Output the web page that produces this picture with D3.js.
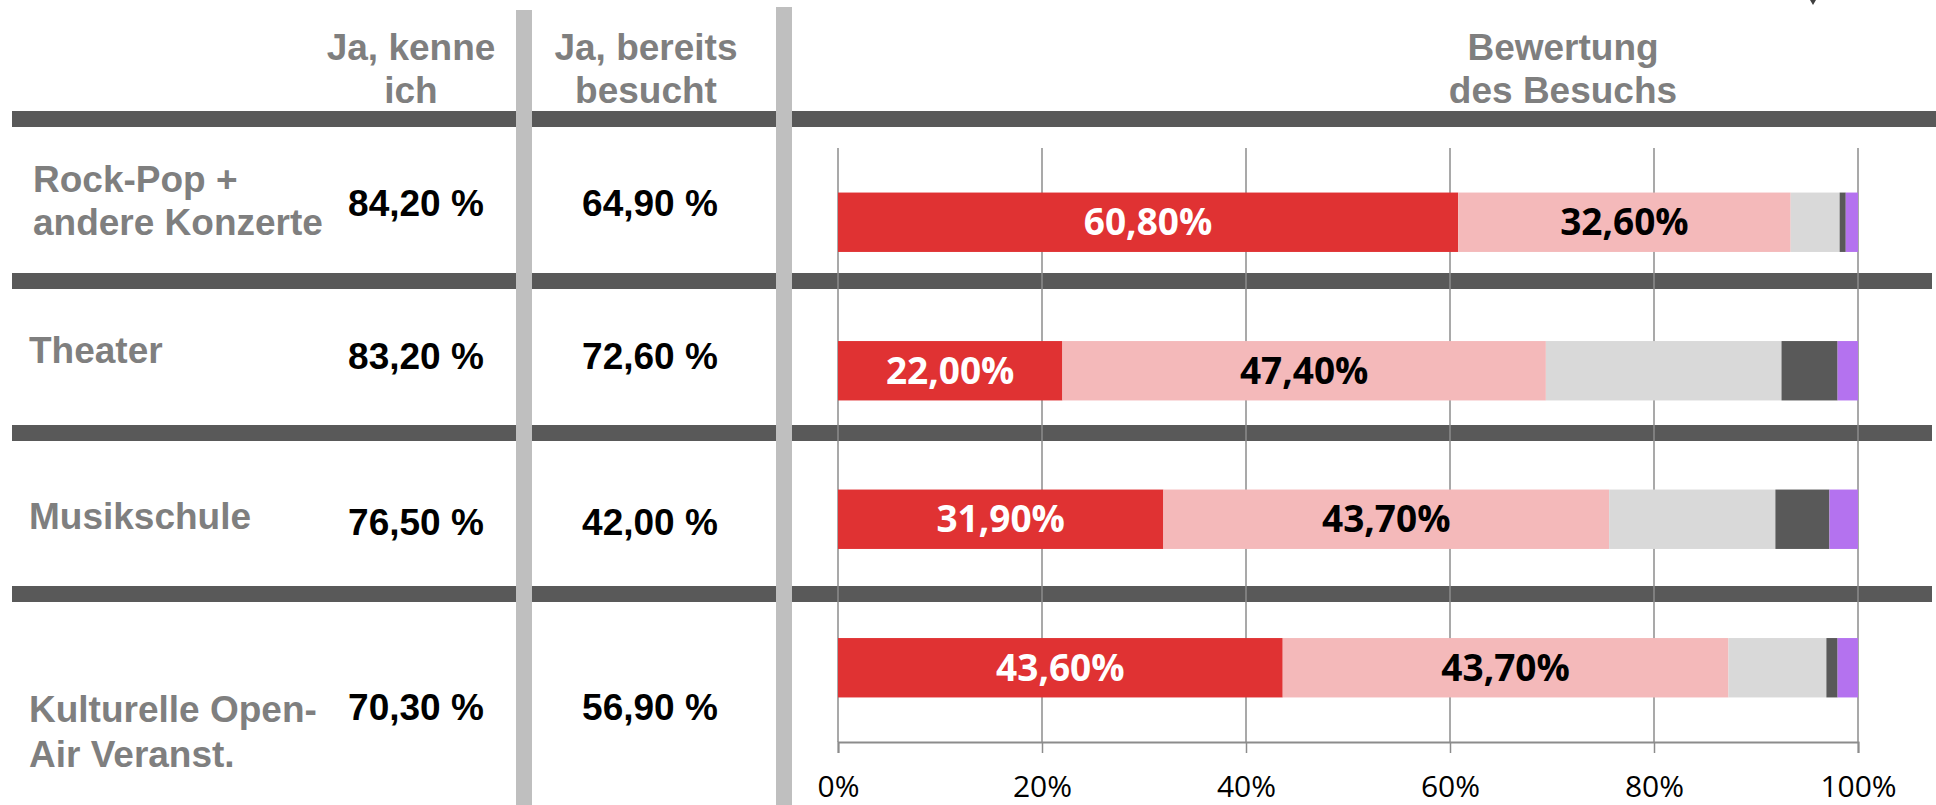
<!DOCTYPE html>
<html>
<head>
<meta charset="utf-8">
<script src="https://cdn.jsdelivr.net/npm/d3@7"></script>
<style>
  html, body { margin: 0; padding: 0; background: #fff; }
  svg { display: block; }
</style>
</head>
<body>
<svg id="chart" width="1936" height="805"></svg>
<script>
// data
const categories = ['Rock-Pop + andere Konzerte', 'Theater', 'Musikschule', 'Kulturelle Open-Air Veranst.'];
const categoryLines = [['Rock-Pop +', 'andere Konzerte'], ['Theater'], ['Musikschule'], ['Kulturelle Open-', 'Air Veranst.']];
const known = [84.2, 83.2, 76.5, 70.3];
const visited = [64.9, 72.6, 42.0, 56.9];

const seriesKeys = ['sehrGut', 'gut', 'mittel', 'schlecht', 'sehrSchlecht'];
const sehrGut = [60.8, 22.0, 31.9, 43.6];
const gut = [32.6, 47.4, 43.7, 43.7];
const mittel = [4.8, 23.1, 16.3, 9.6];
const schlecht = [0.6, 5.5, 5.3, 1.1];
const sehrSchlecht = [1.2, 2.0, 2.8, 2.0];
const seriesColors = ['#e03233', '#f4b9ba', '#d9d9d9', '#595959', '#b472ef'];
const labelColors = ['#ffffff', '#000000', null, null, null];

const headers = [['Ja, kenne', 'ich'], ['Ja, bereits', 'besucht'], ['Bewertung', 'des Besuchs']];
const tickValues = [0, 0.2, 0.4, 0.6, 0.8, 1];

const rows = categories.map((c, i) => ({
  category: c,
  sehrGut: sehrGut[i] / 100, gut: gut[i] / 100, mittel: mittel[i] / 100,
  schlecht: schlecht[i] / 100, sehrSchlecht: sehrSchlecht[i] / 100
}));

const svg = d3.select('#chart');
const deComma = s => s.replace('.', ',');
const pct2 = v => deComma(d3.format('.2f')(v));

// layout
const x = d3.scaleLinear().domain([0, 1]).range([838, 1858]);
const y = d3.scaleBand().domain(categories).range([148, 742]).paddingInner(0.6).paddingOuter(0.3);
const sepTops = [111, 273, 425, 586];
const valueBaselines = [216, 369, 535, 720];
const labelBaselines = [[192, 235], [363], [529], [722, 767]];

const grey = '#7f7f7f';
const font = '"Liberation Sans", Arial, sans-serif';
const textSize = '37px';

// horizontal separators
svg.append('g').attr('class', 'separators')
  .selectAll('rect').data(sepTops).enter().append('rect')
  .attr('x', 12)
  .attr('y', d => d)
  .attr('width', (d, i) => i === 0 ? 1924 : 1920)
  .attr('height', 16)
  .attr('fill', '#595959');

// grid lines
svg.append('g').attr('class', 'grid')
  .selectAll('line').data(tickValues).enter().append('line')
  .attr('x1', d => x(d)).attr('x2', d => x(d))
  .attr('y1', 148).attr('y2', 742)
  .attr('stroke', '#8c8c8c')
  .attr('stroke-width', 1.5);

// axis
const axis = svg.append('g').attr('class', 'axis')
  .attr('transform', 'translate(0,742)')
  .call(d3.axisBottom(x).tickValues(tickValues).tickSizeOuter(0).tickSize(11)
    .tickFormat(d3.format('.0%')));
axis.select('.domain').attr('stroke', '#8c8c8c').attr('stroke-width', 2);
axis.selectAll('.tick line').attr('stroke', '#8c8c8c').attr('stroke-width', 1.5);
axis.selectAll('.tick text')
  .attr('y', 55).attr('dy', 0)
  .attr('fill', '#000')
  .style('font-family', '"Open Sans", sans-serif')
  .style('font-size', '30px');

// stacked bars
const stack = d3.stack().keys(seriesKeys)(rows);
const layers = svg.append('g').attr('class', 'bars')
  .selectAll('g').data(stack).enter().append('g')
  .attr('fill', (d, i) => seriesColors[i]);

layers.selectAll('rect').data(d => d).enter().append('rect')
  .attr('x', d => x(d[0]))
  .attr('y', d => y(d.data.category))
  .attr('width', d => x(d[1]) - x(d[0]))
  .attr('height', y.bandwidth());

// bar labels for the first two series
stack.forEach((layer, i) => {
  if (!labelColors[i]) return;
  svg.append('g').attr('class', 'bar-labels')
    .selectAll('text').data(layer).enter().append('text')
    .attr('x', d => (x(d[0]) + x(d[1])) / 2)
    .attr('y', d => y(d.data.category) + y.bandwidth() / 2 + 13)
    .attr('text-anchor', 'middle')
    .attr('fill', labelColors[i])
    .style('font-family', '"Open Sans", sans-serif')
    .style('font-weight', 700)
    .style('font-size', textSize)
    .text(d => pct2((d[1] - d[0]) * 100) + '%');
});

// headers
const headerX = [411, 646, 1563];
headers.forEach((lines, i) => {
  svg.append('text')
    .attr('text-anchor', 'middle')
    .attr('fill', grey)
    .style('font-family', font)
    .style('font-weight', 700)
    .style('font-size', textSize)
    .selectAll('tspan').data(lines).enter().append('tspan')
    .attr('x', headerX[i])
    .attr('y', (d, j) => j === 0 ? 60 : 103)
    .text(d => d);
});

// row labels
categoryLines.forEach((lines, i) => {
  svg.append('text')
    .attr('fill', grey)
    .style('font-family', font)
    .style('font-weight', 700)
    .style('font-size', textSize)
    .selectAll('tspan').data(lines).enter().append('tspan')
    .attr('x', i === 0 ? 33 : 29)
    .attr('y', (d, j) => labelBaselines[i][j])
    .text(d => d);
});

// table values
[known, visited].forEach((vals, c) => {
  svg.append('g').selectAll('text').data(vals).enter().append('text')
    .attr('x', c === 0 ? 416 : 650)
    .attr('y', (d, i) => valueBaselines[i])
    .attr('text-anchor', 'middle')
    .attr('fill', '#000')
    .style('font-family', font)
    .style('font-weight', 700)
    .style('font-size', textSize)
    .text(d => pct2(d) + ' %');
});

// vertical column dividers drawn over the separators
svg.append('g').attr('class', 'dividers')
  .selectAll('rect').data([[516, 10], [776, 7]]).enter().append('rect')
  .attr('x', d => d[0]).attr('y', d => d[1])
  .attr('width', 16).attr('height', d => 805 - d[1])
  .attr('fill', '#bfbfbf');

// small clipped mark at the top edge
svg.append('path')
  .attr('d', 'M1810,0L1816,0L1813,5Z')
  .attr('fill', '#404040');
</script>
</body>
</html>
